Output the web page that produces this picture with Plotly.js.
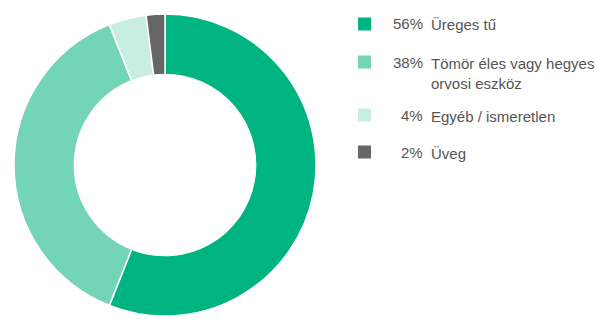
<!DOCTYPE html>
<html><head><meta charset="utf-8">
<script src="https://cdn.plot.ly/plotly-3.0.1.min.js"></script>
<style>html,body{margin:0;padding:0;background:#fff}#c{width:598px;height:319px}</style>
</head><body><div id="c"></div>
<script>
const categories = ["Üreges tű", "Tömör éles vagy hegyes<br>orvosi eszköz", "Egyéb / ismeretlen", "Üveg"];
const values = [56, 38, 4, 2];
const pctLabels = ["56%", "38%", "4%", "2%"];
const colors = ["#00B482", "#73D4B7", "#C8EEE2", "#666666"];

const W = 598, H = 319;
const legendY = [24, 62, 115, 152]; // px from top (centre of first line)
const px = x => x / W, py = y => 1 - y / H;
const FONT = {family:'Liberation Sans, Arial, sans-serif', size:15, color:'#555555'};

const shapes = [], annotations = [];
categories.forEach((c, i) => {
  shapes.push({type:'rect', xref:'paper', yref:'paper',
    x0: px(358), x1: px(371), y0: py(legendY[i]-6.5), y1: py(legendY[i]+6.5),
    fillcolor: colors[i], line:{width:0}});
  annotations.push({xref:'paper', yref:'paper', x: px(425), y: py(legendY[i]),
    xanchor:'right', yanchor:'middle', text: pctLabels[i], showarrow:false, font: FONT});
  annotations.push({xref:'paper', yref:'paper', x: px(429), y: py(legendY[i]-9.5),
    xanchor:'left', yanchor:'top', align:'left', text: c, showarrow:false, font: FONT});
});

Plotly.newPlot('c', [{
  type:'pie', values: values, labels: categories, sort:false, direction:'clockwise',
  rotation:0, hole:0.6, textinfo:'none', hoverinfo:'none',
  marker:{colors: colors, line:{color:'#ffffff', width:1.5}},
  domain:{x:[14/W, 316/W], y:[(H-316)/H, (H-14)/H]},
  showlegend:false
}], {
  width:W, height:H, margin:{l:0,r:0,t:0,b:0},
  paper_bgcolor:'#ffffff', plot_bgcolor:'#ffffff',
  shapes: shapes, annotations: annotations, showlegend:false
}, {staticPlot:true});
</script></body></html>
